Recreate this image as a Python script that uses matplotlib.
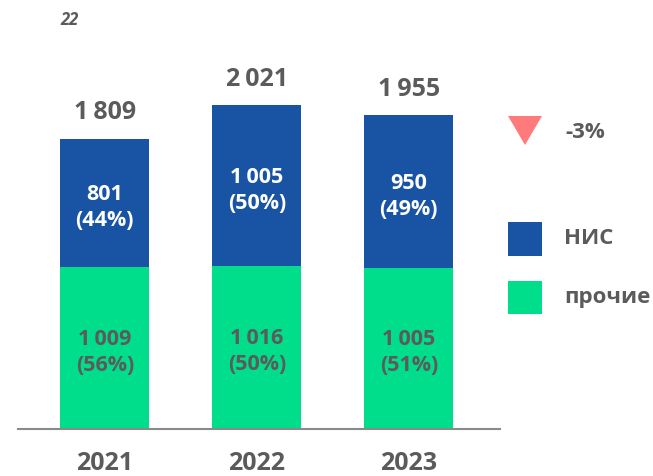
import matplotlib
matplotlib.use("Agg")
import matplotlib.pyplot as plt
from matplotlib.patches import Rectangle, Polygon

plt.rcParams['font.family'] = ['Open Sans', 'DejaVu Sans']

years = ['2021', '2022', '2023']
nis = [801, 1005, 950]
other = [1009, 1016, 1005]
nis_pct = ['44%', '50%', '49%']
other_pct = ['56%', '50%', '51%']
totals = ['1\u2009809', '2\u2009021', '1\u2009955']
nis_lbl = ['801', '1\u2009005', '950']
other_lbl = ['1\u2009009', '1\u2009016', '1\u2009005']
change = '-3%'
legend_labels = ['НИС', 'прочие']

BLUE = '#1854a3'
GREEN = '#00de8c'
RED = '#ff7b7b'
GRAY = '#5b5b5b'
WEIGHT = 'bold'

W, H = 653, 476
fig = plt.figure(figsize=(W / 100, H / 100), dpi=100)

ax_bottom = 429
ax_top = 20
ax = fig.add_axes([18 / W, 1 - ax_bottom / H, (500 - 18) / W, (ax_bottom - ax_top) / H])
px_per_unit = 0.1604
ax.set_ylim(0, (ax_bottom - ax_top) / px_per_unit)
x = list(range(len(years)))
ax.set_xlim(-0.571, 2.600)

bw = 0.586
ax.bar(x, other, width=bw, color=GREEN, zorder=2)
ax.bar(x, nis, width=bw, bottom=other, color=BLUE, zorder=2)

for i in x:
    top = other[i] + nis[i]
    ax.annotate(totals[i], (i, top), xytext=(0, 9.5), textcoords='offset points',
                ha='center', va='bottom', fontsize=18, fontweight=WEIGHT, color=GRAY)
    ax.annotate(f"{nis_lbl[i]}\n({nis_pct[i]})", (i, other[i] + nis[i] / 2),
                xytext=(0, -3.5), textcoords='offset points', ha='center', va='center',
                fontsize=15.5, fontweight=WEIGHT, color='white', linespacing=1.3, zorder=3)
    ax.annotate(f"{other_lbl[i]}\n({other_pct[i]})", (i, other[i] / 2),
                xytext=(0, -3), textcoords='offset points', ha='center', va='center',
                fontsize=15.5, fontweight=WEIGHT, color=GRAY, linespacing=1.3, zorder=3)

for s in ['top', 'right', 'left']:
    ax.spines[s].set_visible(False)
ax.spines['bottom'].set_color('#8a8a8a')
ax.spines['bottom'].set_linewidth(1.5)
ax.set_yticks([])
ax.set_xticks(x)
ax.set_xticklabels(years, fontsize=18, fontweight=WEIGHT, color=GRAY)
ax.tick_params(axis='x', length=0, pad=16)

fig.text(60 / W, 1 - 20 / H, '22', fontsize=12, fontstyle='italic', fontweight='bold',
         color=GRAY, ha='left', va='center')

def fx(px):
    return px / W

def fy(py):
    return 1 - py / H

tri = Polygon([(fx(508), fy(116)), (fx(542), fy(116)), (fx(525), fy(145))],
              closed=True, transform=fig.transFigure, facecolor=RED, edgecolor='none')
fig.patches.append(tri)
fig.text(fx(565), fy(133), change, fontsize=16, fontweight=WEIGHT, color=GRAY, ha='left', va='center')

for (y0, y1, c, lbl) in [(222, 256, BLUE, legend_labels[0]), (281, 314, GREEN, legend_labels[1])]:
    r = Rectangle((fx(508), fy(y1)), fx(542) - fx(508), fy(y0) - fy(y1),
                  transform=fig.transFigure, facecolor=c, edgecolor='none')
    fig.patches.append(r)
    fig.text(fx(564), fy((y0 + y1) / 2), lbl, fontsize=16, fontweight=WEIGHT, color=GRAY,
             ha='left', va='center')

fig.savefig('out.png', dpi=100)
